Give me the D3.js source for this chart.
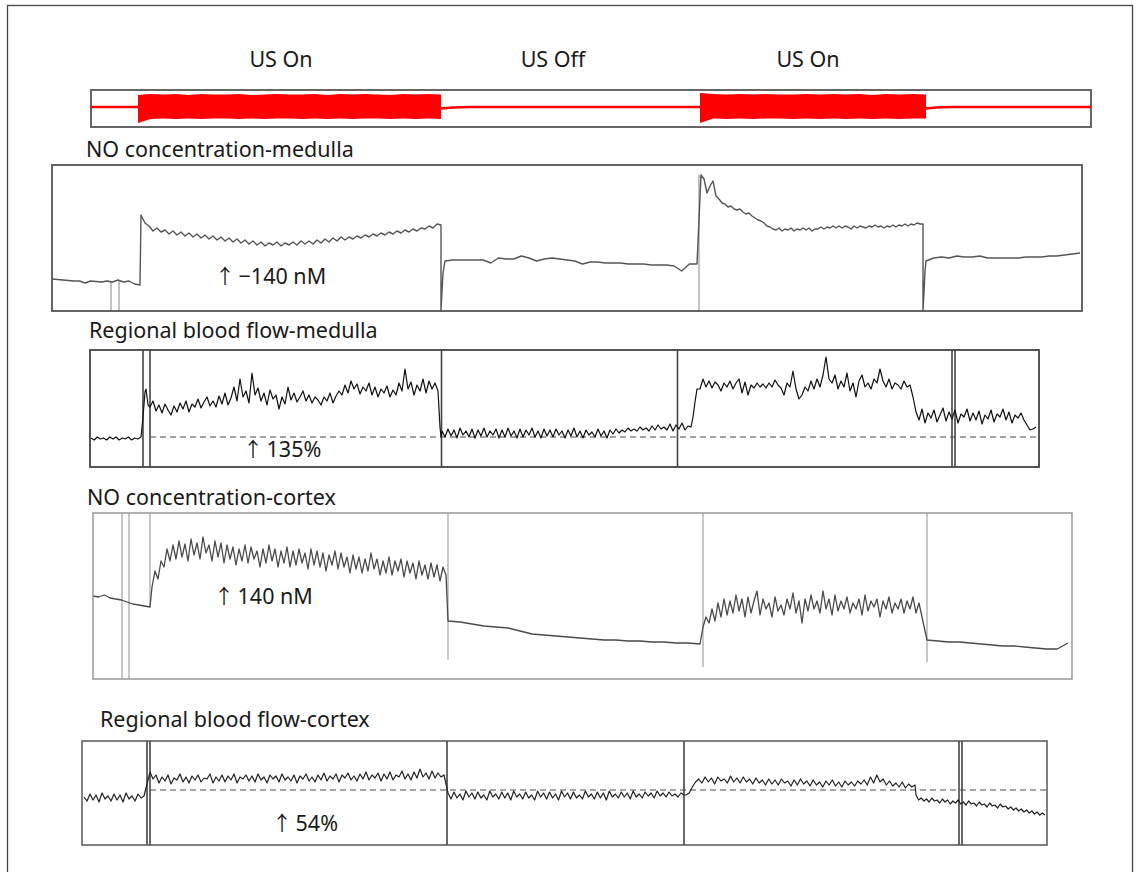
<!DOCTYPE html>
<html>
<head>
<meta charset="utf-8">
<script src="https://cdn.jsdelivr.net/npm/d3@7.9.0/dist/d3.min.js"></script>
<style>
  body { margin: 0; background: #fff; }
  svg { display: block; font-family: "Noto Sans", sans-serif; }
</style>
</head>
<body>
<svg id="chart" width="1141" height="872"></svg>
<script>
// ---------------- data (time in s from panel start, values in trace units) ----------------
const phaseLabels = ["US On", "US Off", "US On"];
const panelTitles = ["NO concentration-medulla", "Regional blood flow-medulla", "NO concentration-cortex", "Regional blood flow-cortex"];
const changeLabels = ["\u2212140 nM", "135%", "140 nM", "54%"];

// ultrasound stimulus trace
const stimRest1 = [[0, 20], [47, 20]];
const stimRest2 = [[350, 18.5], [362, 19.5], [380, 20], [609, 20]];
const stimRest3 = [[835, 18.5], [845, 19.5], [860, 20], [1000, 20]];
const burst1Top = [32, 33, 32.5, 33, 32, 33, 32.5, 32.5, 33, 32, 32.5, 33, 32.5, 32.5, 33, 32, 33, 32.5, 33, 32.5, 32, 33, 32.5, 33, 32.5];
const burst1Bottom = [4, 8, 8.5, 8, 8.5, 8, 8.5, 8.5, 8, 8.5, 8, 8.5, 8.5, 8, 8.5, 8, 8.5, 8, 8.5, 8.5, 8, 8.5, 8, 8.5, 8];
const burst2Top = [34, 33, 32.5, 33, 32.5, 33, 32.5, 32.5, 33, 32.5, 33, 32.5, 33, 32, 33, 32.5, 33, 32.5];
const burst2Bottom = [4, 8.5, 8, 8.5, 8, 8.5, 8.5, 8, 8.5, 8, 8.5, 8, 8.5, 8, 8.5, 8, 8.5, 8.5];

// NO concentration - medulla
const noMedPre = [32, 31.5, 31, 30.5, 30, 30, 28, 30, 29.5, 29, 30, 29, 31, 29, 30, 27, 26];
const noMedOn1 = [96, 88, 85, 80, 83, 79, 81, 77, 80, 76, 79, 75, 78, 74, 77, 73, 76, 72, 75, 71, 74, 70, 73, 69, 72,
  68, 71, 67, 70, 66, 69, 65, 68, 66, 69, 65, 68, 66, 69, 66, 70, 67, 70, 67, 71, 68, 72, 69, 73, 70,
  74, 71, 74, 72, 75, 73, 76, 74, 77, 75, 78, 76, 79, 77, 80, 78, 81, 79, 82, 80, 83, 82, 85, 83, 87];
const noMedDrop1 = [[389, 86], [389, 0], [390, 20], [391, 38], [393, 50]];
const noMedOff1 = [50, 51, 51, 51, 51, 51, 48, 53, 52, 52, 55, 53, 50, 52, 53, 52, 51, 50, 47, 49, 49, 48, 48, 48,
  47, 47, 47, 46, 46, 46, 45, 40, 47, 47];
const noMedOn2 = [136, 132, 118, 125, 130, 115, 112, 108, 107, 104, 105, 102, 101, 102, 99, 97, 98, 95, 93, 91, 90,
  88, 85, 84, 82, 81, 83, 80, 82, 81, 83, 80, 82, 81, 83, 81, 83, 80, 82, 82, 84, 82, 84, 83, 85, 83, 85, 83,
  85, 84, 82, 85, 83, 85, 84, 83, 85, 84, 86, 84, 85, 83, 85, 84, 86, 84, 86, 85, 87, 85, 87, 86, 88, 87];
const noMedDrop2 = [[871, 87], [871, 0], [872, 19], [873, 40], [874, 50]];
const noMedOff2 = [50, 53, 54, 53, 55, 54, 54, 55, 53, 53, 53, 53, 53, 54, 54, 54, 55, 55, 56, 57, 58];
const noMedMarks = [[59, 0, 30], [67, 0, 30], [647, 0, 136]];

// regional blood flow - medulla
const rbfMedPre = [29, 27, 30, 28, 29, 27, 30, 28, 30, 27, 29, 28, 30, 27, 29, 28, 30];
const rbfMedRise1 = [[53, 50], [55, 75], [56, 78], [58, 62]];
const rbfMedOn1 = [60, 66, 56, 62, 54, 63, 57, 52, 61, 55, 64, 58, 66, 55, 63, 60, 68, 59, 65, 70, 61, 66, 60, 71, 63,
  74, 62, 69, 80, 66, 88, 70, 76, 64, 94, 72, 79, 66, 74, 62, 77, 68, 72, 58, 70, 63, 80, 67, 74, 65,
  70, 76, 66, 72, 64, 70, 67, 62, 70, 66, 74, 64, 71, 76, 72, 82, 74, 86, 78, 83, 73, 80, 76, 84, 72,
  80, 70, 78, 74, 81, 70, 77, 72, 84, 76, 98, 78, 85, 72, 82, 76, 88, 74, 86, 78, 84, 76];
const rbfMedDrop1 = [[350, 40], [351, 30]];
const rbfMedOff1 = [36, 30, 38, 31, 37, 29, 39, 32, 36, 30, 38, 29, 37, 31, 39, 30, 36, 32, 38, 29, 37, 30, 39, 31, 36,
  29, 38, 30, 37, 32, 39, 30, 36, 29, 38, 31, 37, 30, 38, 32, 36, 29, 37, 31, 39, 30, 36, 29, 37, 32,
  35, 30, 38, 31, 36, 29, 37, 33, 38, 34, 37, 35, 39, 36, 38, 36, 40, 37, 39, 36, 41, 37, 42, 38, 40,
  37, 43, 36, 42, 38, 44, 37, 41];
const rbfMedRise2 = [[601, 40], [603, 50], [605, 65], [607, 78]];
const rbfMedOn2 = [78, 88, 80, 86, 79, 85, 82, 76, 84, 80, 86, 78, 84, 88, 74, 85, 72, 82, 79, 84, 80, 83, 79, 84, 80,
  87, 82, 79, 72, 84, 80, 96, 78, 68, 72, 80, 76, 86, 78, 88, 80, 92, 110, 88, 84, 92, 78, 86, 80, 94,
  76, 84, 70, 86, 92, 80, 84, 78, 88, 84, 98, 86, 80, 88, 78, 84, 82, 78, 86, 80, 82, 70];
const rbfMedPost = [55, 47, 58, 44, 54, 49, 57, 45, 52, 59, 46, 55, 48, 57, 44, 53, 50, 58, 46, 54, 47, 56, 43, 52, 48,
  57, 45, 53, 50, 58, 47, 55, 44, 52, 49, 54, 47, 42, 37, 38, 40];
const rbfMedMarks = [53, 60, 351.5, 587.5, 862, 865];
const rbfMedBaseline = 30;

// NO concentration - cortex
const noCtxPre = [83, 82, 84, 81, 80, 79, 77, 75, 74, 73, 72];
const noCtxOn1 = [92, 108, 100, 118, 112, 130, 118, 134, 120, 138, 122, 135, 118, 140, 124, 136, 120, 142, 126, 134,
  118, 138, 122, 136, 116, 134, 120, 132, 114, 130, 118, 134, 116, 132, 120, 128, 112, 130, 116, 134,
  118, 130, 112, 128, 116, 132, 112, 128, 114, 130, 116, 126, 110, 130, 114, 128, 112, 126, 108, 124,
  114, 128, 110, 126, 112, 122, 106, 124, 110, 122, 106, 120, 108, 126, 110, 120, 104, 118, 106, 122,
  104, 118, 108, 120, 102, 118, 106, 116, 100, 118, 104, 114, 100, 116, 102, 114, 98, 112, 104];
const noCtxOff1 = [58, 57, 55, 53, 52, 51, 48, 45, 44, 43, 42, 41, 40, 39, 39, 38, 38, 37, 37, 36, 36, 35];
const noCtxOn2 = [52, 62, 56, 70, 58, 76, 62, 80, 64, 78, 66, 84, 68, 80, 62, 82, 66, 78, 88, 64, 80, 70, 76, 62, 82,
  68, 74, 64, 80, 70, 86, 66, 78, 56, 80, 68, 84, 70, 78, 66, 88, 70, 80, 64, 84, 68, 78, 70, 82, 66,
  76, 70, 80, 64, 84, 68, 78, 72, 80, 62, 78, 70, 82, 66, 76, 70, 80, 66, 78, 70, 82, 66, 76, 62];
const noCtxOff2 = [39, 38, 37, 37, 36, 35, 34, 33, 33, 32, 31, 30, 30, 36];
const noCtxMarks = [[29, 0, 166], [36, 0, 166], [57, 72, 166], [355, 19, 166], [610, 12, 166], [834, 17, 166]];

// regional blood flow - cortex
const rbfCtxPre = [48, 44, 51, 45, 50, 43, 52, 46, 49, 44, 51, 45, 50, 43, 52, 46, 49, 44, 51, 47, 49];
const rbfCtxOn1 = [73, 66, 70, 62, 68, 64, 70, 61, 67, 65, 71, 63, 68, 62, 69, 65, 70, 63, 67, 66, 71, 62, 68, 64, 70,
  63, 69, 65, 71, 62, 68, 66, 70, 64, 69, 63, 71, 65, 68, 62, 70, 66, 69, 63, 71, 65, 68, 64, 70, 62,
  69, 66, 71, 64, 68, 63, 70, 65, 72, 64, 69, 66, 71, 63, 70, 67, 72, 65, 69, 64, 71, 66, 73, 65, 70,
  67, 72, 64, 71, 66, 73, 65, 70, 68, 74, 66, 71, 65, 73, 67, 76, 68, 72, 66, 74, 67, 72, 68, 70];
const rbfCtxOff1 = [52, 46, 53, 47, 51, 45, 54, 48, 52, 46, 53, 47, 50, 45, 54, 48, 51, 46, 53, 47, 52, 45, 54, 48, 51,
  46, 53, 47, 50, 45, 54, 48, 52, 46, 53, 47, 51, 45, 54, 48, 52, 46, 53, 47, 50, 46, 54, 48, 51, 46,
  53, 47, 52, 45, 54, 48, 51, 47, 53, 48, 52, 46, 54, 48, 51, 47, 53, 49, 52, 47, 54, 49, 52, 48, 53,
  49, 51, 48, 52, 50];
const rbfCtxOn2 = [50, 52, 58, 63, 66, 62, 68, 63, 67, 61, 68, 64, 66, 62, 69, 63, 67, 62, 68, 63, 66, 61, 67, 62, 65,
  60, 66, 61, 65, 60, 66, 62, 64, 59, 65, 60, 66, 61, 64, 59, 65, 60, 63, 58, 64, 60, 65, 59, 63, 58,
  64, 60, 63, 59, 64, 61, 65, 60, 68, 62, 70, 63, 66, 60, 64, 59, 62, 58, 63, 57, 61, 58, 60];
const rbfCtxPost = [50, 45, 47, 44, 46, 43, 47, 44, 45, 42, 46, 43, 45, 41, 44, 42, 45, 41, 43, 40, 44, 41, 42, 39, 43,
  40, 41, 38, 42, 39, 40, 37, 41, 38, 39, 36, 38, 35, 37, 34, 36, 33, 35, 32, 34, 31, 33, 30, 32, 30];
const rbfCtxMarks = [65, 68, 365, 602, 877, 880];
const rbfCtxBaseline = 55;

// ---------------- helpers ----------------
// spread a run of equally spaced samples between two times
function spread(t0, t1, vals) {
  const s = d3.scaleLinear().domain([0, vals.length - 1]).range([t0, t1]);
  return vals.map((v, i) => [s(i), v]);
}

const svg = d3.select("#chart");
const FONT = 21.5;

// outer frame
svg.append("rect")
  .attr("x", 7.5).attr("y", 5.5)
  .attr("width", 1125).attr("height", 900)
  .attr("fill", "none").attr("stroke", "#444").attr("stroke-width", 1.3);

function makePanel(box, tMax, vMax) {
  const x = d3.scaleLinear().domain([0, tMax]).range([box.left, box.right]);
  const y = d3.scaleLinear().domain([0, vMax]).range([box.bottom, box.top]);
  const g = svg.append("g");
  return { x, y, g, box };
}

function frame(p, color, width) {
  p.g.append("rect")
    .attr("x", p.box.left).attr("y", p.box.top)
    .attr("width", p.box.right - p.box.left)
    .attr("height", p.box.bottom - p.box.top)
    .attr("fill", "none").attr("stroke", color).attr("stroke-width", width);
}

function trace(p, pts, color, width) {
  const line = d3.line().x((d) => p.x(d[0])).y((d) => p.y(d[1]));
  p.g.append("path")
    .attr("d", line(pts))
    .attr("fill", "none")
    .attr("stroke", color)
    .attr("stroke-width", width)
    .attr("stroke-linejoin", "round");
}

function label(text, x, y) {
  svg.append("text").attr("x", x).attr("y", y)
    .attr("font-size", FONT).attr("fill", "#1a1a1a").text(text);
}

// arrow uses a CJK face, followed by a thin space and the value
function change(text, x, y) {
  const t = svg.append("text").attr("x", x).attr("y", y)
    .attr("font-size", FONT).attr("fill", "#1a1a1a");
  t.append("tspan").attr("font-family", "Noto Sans CJK JP").attr("font-size", 20)
    .text("\u2191");
  t.append("tspan").text("\u2009" + text);
}

// ---------------- phase labels ----------------
[281, 553, 808].forEach((cx, i) => {
  svg.append("text").attr("x", cx).attr("y", 67)
    .attr("text-anchor", "middle").attr("font-size", FONT)
    .attr("fill", "#1a1a1a").text(phaseLabels[i]);
});

// ---------------- stimulus panel ----------------
const stim = makePanel({ left: 91, right: 1091, top: 90, bottom: 127 }, 1000, 37);
frame(stim, "#666", 2);
const area = d3.area()
  .x((d) => stim.x(d[0]))
  .y0((d) => stim.y(d[2]))
  .y1((d) => stim.y(d[1]));
[[47, 350, burst1Top, burst1Bottom], [609, 835, burst2Top, burst2Bottom]].forEach(([t0, t1, top, bot]) => {
  const pts = spread(t0, t1, top).map((d, i) => [d[0], d[1], bot[i]]);
  stim.g.append("path").attr("d", area(pts)).attr("fill", "#ff0000");
});
[stimRest1, stimRest2, stimRest3].forEach((r) => trace(stim, r, "#ff0000", 2.4));

// ---------------- NO medulla ----------------
label(panelTitles[0], 86, 157);
const noMed = makePanel({ left: 52, right: 1082, top: 165, bottom: 311 }, 1030, 146);
noMedMarks.forEach(([t, a, b]) => trace(noMed, [[t, a], [t, b]], "#999", 1.2));
trace(noMed, [
  ...spread(0, 88, noMedPre),
  ...spread(89, 385, noMedOn1),
  ...noMedDrop1,
  ...spread(393, 645, noMedOff1),
  ...spread(649, 868, noMedOn2),
  ...noMedDrop2,
  ...spread(874, 1028, noMedOff2),
], "#555", 1.4);
frame(noMed, "#555", 1.8);
change(changeLabels[0], 215, 284);

// ---------------- RBF medulla ----------------
label(panelTitles[1], 89, 338);
const rbfMed = makePanel({ left: 90, right: 1039, top: 350, bottom: 467 }, 949, 117);
rbfMed.g.append("line")
  .attr("x1", rbfMed.x(60)).attr("x2", rbfMed.x(949))
  .attr("y1", rbfMed.y(rbfMedBaseline)).attr("y2", rbfMed.y(rbfMedBaseline))
  .attr("stroke", "#888").attr("stroke-width", 1.3).attr("stroke-dasharray", "6,4");
rbfMedMarks.forEach((t) => trace(rbfMed, [[t, 0], [t, 117]], "#444", 1.6));
trace(rbfMed, [
  ...spread(1, 51, rbfMedPre),
  ...rbfMedRise1,
  ...spread(60, 348, rbfMedOn1),
  ...rbfMedDrop1,
  ...spread(352, 598, rbfMedOff1),
  ...rbfMedRise2,
  ...spread(610, 823, rbfMedOn2),
  ...spread(826, 946, rbfMedPost),
], "#111", 1.2);
frame(rbfMed, "#444", 1.8);
change(changeLabels[1], 243, 457);

// ---------------- NO cortex ----------------
label(panelTitles[2], 87, 505);
const noCtx = makePanel({ left: 93, right: 1072, top: 513, bottom: 679 }, 979, 166);
noCtxMarks.forEach(([t, a, b]) => trace(noCtx, [[t, a], [t, b]], "#aaa", 1.3));
trace(noCtx, [
  ...spread(0, 57, noCtxPre),
  ...spread(59, 353, noCtxOn1),
  ...spread(355, 607, noCtxOff1),
  ...spread(610, 829, noCtxOn2),
  ...spread(834, 975, noCtxOff2),
], "#4a4a4a", 1.3);
frame(noCtx, "#999", 1.5);
change(changeLabels[2], 214, 604);

// ---------------- RBF cortex ----------------
label(panelTitles[3], 100, 727);
const rbfCtx = makePanel({ left: 82, right: 1047, top: 741, bottom: 845 }, 965, 104);
rbfCtx.g.append("line")
  .attr("x1", rbfCtx.x(68)).attr("x2", rbfCtx.x(965))
  .attr("y1", rbfCtx.y(rbfCtxBaseline)).attr("y2", rbfCtx.y(rbfCtxBaseline))
  .attr("stroke", "#888").attr("stroke-width", 1.3).attr("stroke-dasharray", "6,4");
rbfCtxMarks.forEach((t) => trace(rbfCtx, [[t, 0], [t, 104]], "#444", 1.6));
trace(rbfCtx, [
  ...spread(2, 62, rbfCtxPre),
  ...spread(68, 362, rbfCtxOn1),
  ...spread(366, 602, rbfCtxOff1),
  ...spread(604, 833, rbfCtxOn2),
  ...spread(834, 963, rbfCtxPost),
], "#222", 1.2);
frame(rbfCtx, "#555", 1.5);
change(changeLabels[3], 272, 831);
</script>
</body>
</html>
